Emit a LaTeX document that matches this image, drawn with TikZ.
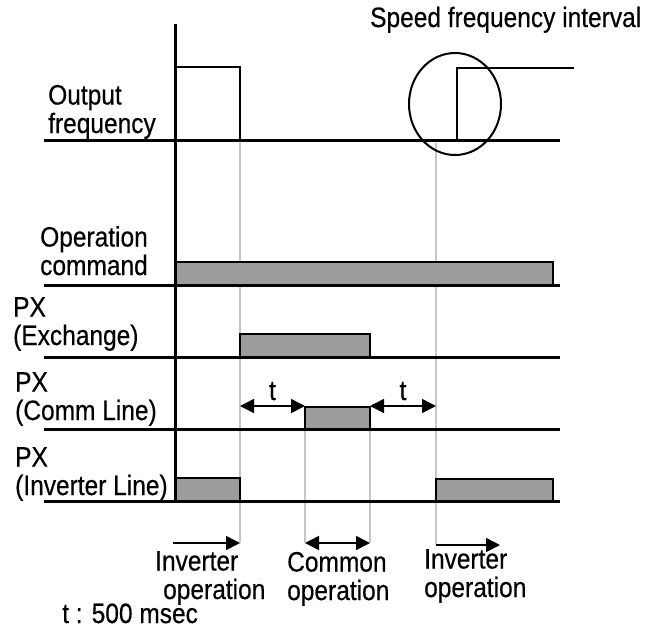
\documentclass[tikz,border=0pt]{standalone}
\usepackage{fontspec}
\setmainfont{Liberation Sans}[FakeStretch=0.875,FakeBold=0.4]
\usetikzlibrary{arrows.meta,calc,positioning}
\definecolor{barGray}{HTML}{9C9C9C}
\definecolor{guideGray}{HTML}{C6C6C6}
\tikzset{
  lbl/.style={font=\fontsize{28}{28.5}\selectfont,inner sep=0pt,align=left,anchor=base west},
  baseline/.style={line width=3pt},
  signal/.style={line width=2pt},
  bar/.style={draw,fill=barGray,line width=1.8pt},
  guide/.style={guideGray,line width=1.6pt},
  span/.style={line width=1.6pt},
}

\begin{document}
\begin{tikzpicture}[x=1pt,y=-1pt,>={Triangle[length=14pt,width=14pt]}]
  \useasboundingbox (0,0) rectangle (647,632);

  % timing guides
  \draw[guide] (240,143) -- (240,543);
  \draw[guide] (436,143) -- (436,545);
  \draw[guide] (305,407) -- (305,543);
  \draw[guide] (370,407) -- (370,543);

  % signal levels
  \draw[bar] (175,262) rectangle (553,285);
  \draw[bar] (240,334) rectangle (370,357);
  \draw[bar] (305,407) rectangle (370,429);
  \draw[bar] (175,478) rectangle (240,501);
  \draw[bar] (436,479) rectangle (553,501);
  \foreach \y in {140,285,357,429,501}
    \draw[baseline] (44,\y) -- (560,\y);
  \draw[baseline] (175,24) -- (175,501);

  % output frequency
  \draw[signal] (175,67) -- (240,67) -- (240,140);
  \draw[signal] (457,140) -- (457,68) -- (574,68);
  \draw[signal] (455,104) ellipse (46 and 51);

  % labels (base = last line)
  \node[lbl] (outf) at (48,133) {Output\\frequency};
  \node[lbl] (opcmd) at (40,275) {Operation\\command};
  \node[lbl] (pxex) at (13,345) {PX\\(Exchange)};
  \node[lbl] (pxcomm) at (15,420) {PX\\(Comm Line)};
  \node[lbl] (pxinv) at (15,495) {PX\\(Inverter Line)};
  \node[lbl] (speed) at (370,27) {Speed frequency interval};

  % delay t
  \coordinate (s1) at (240,406);
  \coordinate (s2) at (305,406);
  \coordinate (s3) at (370,406);
  \coordinate (s4) at (436,406);
  \draw[span,<->] (s1) -- node[lbl,anchor=base,yshift=6pt] (ta) {t} (s2);
  \draw[span,<->] (s3) -- node[lbl,anchor=base,yshift=6pt] (tb) {t} (s4);

  % operation modes
  \coordinate (b0) at (173,543);
  \coordinate (b1) at (240,543);
  \coordinate (b2) at (305,543);
  \coordinate (b3) at (370,543);
  \coordinate (b4) at (436,545);
  \coordinate (b5) at (500,545);
  \draw[span,->] (b0) -- (b1);
  \draw[span,<->] (b2) -- (b3);
  \draw[span,->] (b4) -- (b5);
  \node[lbl] (invop1) at (155,599) {Inverter\\\hspace*{8pt}operation};
  \node[lbl] (comop) at (287,600) {Common\\operation};
  \node[lbl] (invop2) at (424,597) {Inverter\\operation};
  \node[lbl] (tnote) at (62,623) {t : 500 msec};
\end{tikzpicture}
\end{document}
